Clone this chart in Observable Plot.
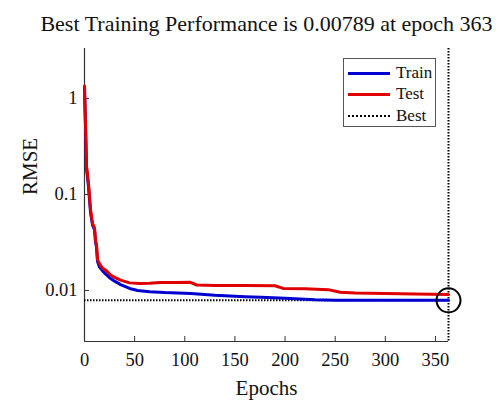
<!DOCTYPE html>
<html>
<head>
<meta charset="utf-8">
<script src="https://cdn.jsdelivr.net/npm/d3@7"></script>
<script src="https://cdn.jsdelivr.net/npm/@observablehq/plot@0.6"></script>
<style>
  html, body { margin: 0; padding: 0; background: white; }
  #wrap { position: relative; width: 501px; height: 400px; font-family: "Liberation Serif", "Times New Roman", serif; }
  #legend { position: absolute; left: 343px; top: 58px; width: 93px; height: 69px; border: 1px solid #555; background: white; box-sizing: border-box; font-size: 17px; color: #111; }
  .row { position: absolute; left: 4px; height: 20px; display: flex; align-items: center; }
  .sw { width: 42px; height: 0; margin-right: 6px; }
</style>
</head>
<body>
<div id="wrap">
  <div id="chart"></div>
  <div id="legend">
    <div class="row" style="top:4px"><div class="sw" style="border-top:3px solid #0000d0"></div><span>Train</span></div>
    <div class="row" style="top:25px"><div class="sw" style="border-top:3px solid #e00000"></div><span>Test</span></div>
    <div class="row" style="top:47px"><div class="sw" style="border-top:2px dotted #000"></div><span>Best</span></div>
  </div>
</div>
<script>
const title = "Best Training Performance is 0.00789 at epoch 363";
const bestEpoch = 363;
const bestValue = 0.00789;

const trainEpochs = [0, 1, 2, 4, 6, 8, 10, 11, 12, 13, 15, 18, 22, 26, 30, 36, 45, 53, 65, 80, 106, 130, 160, 176, 200, 230, 250, 300, 363];
const trainRmse   = [1.3, 0.5, 0.19, 0.12, 0.065, 0.048, 0.043, 0.032, 0.028, 0.020, 0.0175, 0.016, 0.0145, 0.0133, 0.0125, 0.0115, 0.0105, 0.0100, 0.0097, 0.0095, 0.0093, 0.0089, 0.0086, 0.0085, 0.0083, 0.0080, 0.0079, 0.00789, 0.00789];

const testEpochs = [0, 1, 2, 4, 6, 8, 10, 11, 12, 13, 15, 18, 22, 26, 30, 36, 45, 55, 65, 75, 90, 105, 112, 130, 160, 190, 198, 220, 243, 255, 270, 300, 330, 363];
const testRmse   = [1.35, 0.55, 0.2, 0.13, 0.07, 0.05, 0.045, 0.033, 0.03, 0.021, 0.019, 0.017, 0.016, 0.0145, 0.0137, 0.0128, 0.012, 0.0118, 0.0119, 0.0121, 0.0121, 0.0122, 0.0114, 0.0113, 0.0113, 0.0112, 0.0105, 0.0104, 0.0102, 0.0096, 0.0094, 0.0093, 0.0092, 0.0091];

const xTicks = [0, 50, 100, 150, 200, 250, 300, 350];
const yTicks = [0.01, 0.1, 1];
const yTickLabels = ["0.01", "0.1", "1"];

const train = trainEpochs.map((e, i) => ({epoch: e, rmse: trainRmse[i]}));
const test = testEpochs.map((e, i) => ({epoch: e, rmse: testRmse[i]}));

const yMin = 0.00294, yMax = 3.32;

const chart = Plot.plot({
  width: 501,
  height: 400,
  marginLeft: 84,
  marginRight: 53,
  marginTop: 48,
  marginBottom: 59,
  style: {fontFamily: "Liberation Serif, Times New Roman, serif", fontSize: "18.5px", color: "#111", background: "white", overflow: "visible"},
  x: {domain: [0, bestEpoch]},
  y: {type: "log", domain: [yMin, yMax]},
  marks: [
    Plot.axisX({ticks: xTicks, tickSize: -5, tickPadding: 16, label: null, stroke: "#333", tickFormat: d => String(d)}),
    Plot.axisY({ticks: yTicks, tickSize: -5, tickPadding: 12, label: null, stroke: "#333", tickFormat: d => yTickLabels[yTicks.indexOf(d)]}),
    Plot.ruleX([0], {stroke: "#333", strokeWidth: 1.2}),
    Plot.ruleY([yMin], {stroke: "#333", strokeWidth: 1.2}),
    Plot.ruleY([bestValue], {x1: 0, x2: bestEpoch, stroke: "#000", strokeWidth: 2, strokeDasharray: "1.5,1.5"}),
    Plot.ruleX([bestEpoch], {stroke: "#000", strokeWidth: 2, strokeDasharray: "1.5,1.5"}),
    Plot.line(train, {x: "epoch", y: "rmse", stroke: "#0000d0", strokeWidth: 3}),
    Plot.line(test, {x: "epoch", y: "rmse", stroke: "#e00000", strokeWidth: 3}),
    Plot.dot([{epoch: bestEpoch, rmse: bestValue}], {x: "epoch", y: "rmse", r: 12, stroke: "#000", strokeWidth: 2, fill: "none"}),
    Plot.text([title], {frameAnchor: "top", lineAnchor: "middle", dy: -25, fontSize: 22, fill: "#111"}),
    Plot.text(["Epochs"], {frameAnchor: "bottom", lineAnchor: "middle", dy: 47, fontSize: 21, fill: "#111"}),
    Plot.text(["RMSE"], {frameAnchor: "left", dx: -54, rotate: -90, fontSize: 21, fill: "#111"})
  ]
});
document.getElementById("chart").appendChild(chart);
</script>
</body>
</html>
